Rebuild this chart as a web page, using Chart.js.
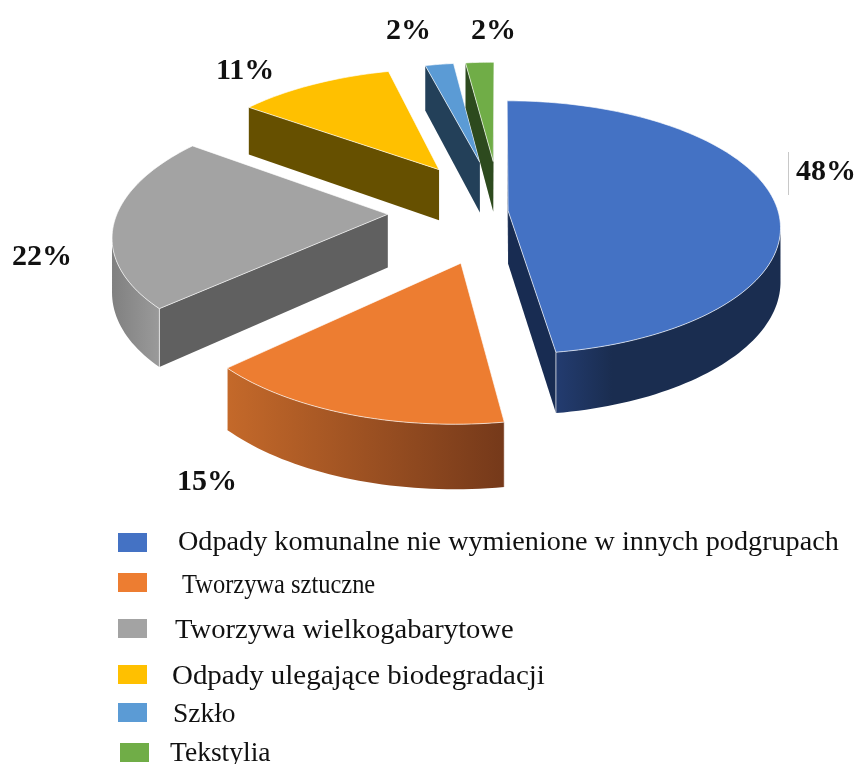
<!DOCTYPE html>
<html lang="pl">
<head>
<meta charset="utf-8">
<title>Odpady</title>
<script src="https://cdn.jsdelivr.net/npm/chart.js@4"></script>
<style>
  html, body { margin: 0; padding: 0; background: #fff; }
  #wrap { position: relative; width: 857px; height: 764px; overflow: hidden; filter: blur(0.45px); }
  #chart { position: absolute; left: 0; top: 0; }
  .swatch { position: absolute; width: 29px; height: 19px; }
  .row { position: absolute; font: 27px "Liberation Serif", serif; color: #111; white-space: nowrap; line-height: 28px; transform-origin: 0 50%; }
</style>
</head>
<body>
<div id="wrap">
  <canvas id="chart" width="857" height="764"></canvas>
</div>
<script>
const categories = [
  'Odpady komunalne nie wymienione w innych podgrupach',
  'Tworzywa sztuczne',
  'Tworzywa wielkogabarytowe',
  'Odpady ulegające biodegradacji',
  'Szkło',
  'Tekstylia',
];
const shares = [47.6, 15.4, 22, 11, 2, 2];
const colors = ['#4472c4', '#ed7d31', '#a3a3a3', '#ffc000', '#5b9bd5', '#70ad47'];

// wall shades, the pie is lit from the front so the cut faces stay dark
const cutColors = ['#182c52', '#75391a', '#606060', '#665000', '#234059', '#2d4a1e'];
const sideStops = [
  [[0, '#233c70'], [0.25, '#1a2d50'], [1, '#1a2d50']],
  [[0, '#c4692a'], [1, '#75391a']],
  [[0, '#808080'], [1, '#9a9a9a']],
  [[0, '#997300'], [1, '#997300']],
  [[0, '#2e5f8a'], [1, '#2e5f8a']],
  [[0, '#43682b'], [1, '#43682b']],
];

// camera of the tilted pie
const CAM = { cx: 500, cy: 211, r: 270, tilt: 124.5, depth: 53, persp: 0.132 };

function project(u, v, low) {
  const s = 1 / (1 - CAM.persp * v);
  return {
    x: CAM.cx + CAM.r * u * s,
    y: CAM.cy + CAM.tilt * v * s + (low ? CAM.depth * s : 0),
  };
}

function area(pts) {
  let a = 0;
  pts.forEach((p, i) => {
    const q = pts[(i + 1) % pts.length];
    a += p.x * q.y - q.x * p.y;
  });
  return a;
}

function poly(ctx, pts) {
  ctx.beginPath();
  pts.forEach((p, i) => (i ? ctx.lineTo(p.x, p.y) : ctx.moveTo(p.x, p.y)));
  ctx.closePath();
}

const pie3d = {
  id: 'pie3d',
  beforeDatasetDraw(chart) {
    const ctx = chart.ctx;
    const arcs = chart.getDatasetMeta(0).data;
    ctx.save();
    arcs.forEach((arc, i) => {
      const { startAngle, endAngle } = arc.getProps(['startAngle', 'endAngle']);
      const mid = (startAngle + endAngle) / 2;
      const e = arc.options.offset / 100; // explosion in percent of the radius, like Excel
      const ou = Math.cos(mid) * e, ov = Math.sin(mid) * e;
      const steps = Math.max(8, Math.ceil((endAngle - startAngle) * 40));
      const rim = [];
      for (let k = 0; k <= steps; k++) {
        const a = startAngle + (endAngle - startAngle) * k / steps;
        rim.push([ou + Math.cos(a), ov + Math.sin(a)]);
      }
      const top = rim.map(p => project(p[0], p[1], false));
      const low = rim.map(p => project(p[0], p[1], true));
      const apexT = project(ou, ov, false), apexL = project(ou, ov, true);

      // cut faces
      const startQ = [apexT, top[0], low[0], apexL];
      const endQ = [apexT, top[steps], low[steps], apexL];
      ctx.fillStyle = cutColors[i];
      if (area(startQ) < 0) { poly(ctx, startQ); ctx.fill(); }
      if (area(endQ) > 0) { poly(ctx, endQ); ctx.fill(); }

      // outer wall, only the part facing us
      const upper = [], lower = [];
      for (let k = 0; k < steps; k++) {
        if (area([top[k], top[k + 1], low[k + 1], low[k]]) < 0) {
          if (!upper.length) { upper.push(top[k]); lower.push(low[k]); }
          upper.push(top[k + 1]); lower.push(low[k + 1]);
        }
      }
      if (upper.length) {
        const wall = upper.concat(lower.slice().reverse());
        const xs = wall.map(p => p.x);
        const g = ctx.createLinearGradient(Math.min(...xs), 0, Math.max(...xs), 0);
        sideStops[i].forEach(s => g.addColorStop(s[0], s[1]));
        ctx.fillStyle = g;
        poly(ctx, wall); ctx.fill();
        // thin light line on the corner of wall and cut face
        ctx.strokeStyle = 'rgba(255,255,255,0.7)';
        ctx.lineWidth = 1;
        [0, upper.length - 1].forEach(j => {
          if (upper[j] === top[0] || upper[j] === top[steps]) {
            ctx.beginPath(); ctx.moveTo(upper[j].x, upper[j].y); ctx.lineTo(lower[j].x, lower[j].y); ctx.stroke();
          }
        });
      }

      // top face
      const face = [apexT].concat(top);
      ctx.fillStyle = arc.options.backgroundColor;
      poly(ctx, face); ctx.fill();
      ctx.strokeStyle = 'rgba(255,255,255,0.65)';
      ctx.lineWidth = 1;
      poly(ctx, face); ctx.stroke();
    });
    ctx.restore();
    return false;
  },
  afterDraw(chart) {
    const ctx = chart.ctx;
    ctx.save();
    ctx.strokeStyle = '#c8c8c8';
    ctx.lineWidth = 1;
    ctx.beginPath(); ctx.moveTo(788.5, 152); ctx.lineTo(788.5, 195); ctx.stroke();
    ctx.font = 'bold 30px "Liberation Serif", serif';
    ctx.fillStyle = '#111';
    ctx.textBaseline = 'middle';
    const spots = [[796, 172], [177, 482], [12, 257], [216, 71], [386, 31], [471, 31]];
    shares.forEach((v, i) => ctx.fillText(Math.round(v) + '%', spots[i][0], spots[i][1]));
    ctx.restore();
  },
};

new Chart(document.getElementById('chart'), {
  type: 'pie',
  data: {
    labels: categories,
    datasets: [{
      data: shares,
      backgroundColor: colors,
      borderWidth: 0,
      offset: [3, 42, 41.5, 42, 42, 42],
    }],
  },
  options: {
    responsive: false,
    animation: false,
    devicePixelRatio: 1,
    plugins: { legend: { display: false }, tooltip: { enabled: false } },
  },
  plugins: [pie3d],
});

// legend rows sit unevenly in the source and each is stretched differently, so they are placed one by one
const swatchSpots = [[118, 533], [118, 573], [118, 619], [118, 665], [118, 703], [120, 743]];
const textSpots = [[178, 541], [182, 584], [175, 629], [172, 675], [173, 713], [170, 752]];
const textWidths = [661, 193, 339, 373, 63, 101];
const wrap = document.getElementById('wrap');
categories.forEach((name, i) => {
  const sw = document.createElement('div');
  sw.className = 'swatch';
  sw.style.left = swatchSpots[i][0] + 'px';
  sw.style.top = swatchSpots[i][1] + 'px';
  sw.style.background = colors[i];
  wrap.appendChild(sw);
  const row = document.createElement('div');
  row.className = 'row';
  row.textContent = name;
  row.style.left = textSpots[i][0] + 'px';
  row.style.top = (textSpots[i][1] - 14) + 'px';
  wrap.appendChild(row);
  row.style.transform = 'scaleX(' + (textWidths[i] / row.offsetWidth) + ')';
});
</script>
</body>
</html>
